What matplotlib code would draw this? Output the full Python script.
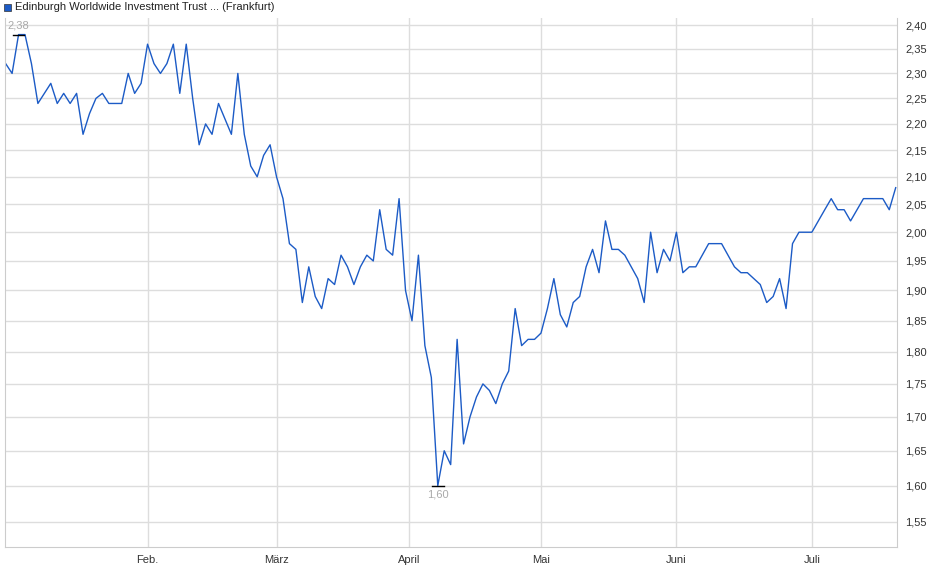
import matplotlib.pyplot as plt
import matplotlib.ticker as mticker

prices = [2.32, 2.30, 2.38, 2.38, 2.32, 2.24, 2.26, 2.28, 2.24, 2.26, 2.24, 2.26, 2.18, 2.22, 2.25,
          2.26, 2.24, 2.24, 2.24, 2.30, 2.26, 2.28, 2.36, 2.32, 2.30, 2.32, 2.36, 2.26, 2.36, 2.25,
          2.16, 2.20, 2.18, 2.24, 2.21, 2.18, 2.30, 2.18, 2.12, 2.10, 2.14, 2.16, 2.10, 2.06, 1.98,
          1.97, 1.88, 1.94, 1.89, 1.87, 1.92, 1.91, 1.96, 1.94, 1.91, 1.94, 1.96, 1.95, 2.04, 1.97,
          1.96, 2.06, 1.90, 1.85, 1.96, 1.81, 1.76, 1.60, 1.65, 1.63, 1.82, 1.66, 1.70, 1.73, 1.75,
          1.74, 1.72, 1.75, 1.77, 1.87, 1.81, 1.82, 1.82, 1.83, 1.87, 1.92, 1.86, 1.84, 1.88, 1.89,
          1.94, 1.97, 1.93, 2.02, 1.97, 1.97, 1.96, 1.94, 1.92, 1.88, 2.00, 1.93, 1.97, 1.95, 2.00,
          1.93, 1.94, 1.94, 1.96, 1.98, 1.98, 1.98, 1.96, 1.94, 1.93, 1.93, 1.92, 1.91, 1.88, 1.89,
          1.92, 1.87, 1.98, 2.00, 2.00, 2.00, 2.02, 2.04, 2.06, 2.04, 2.04, 2.02, 2.04, 2.06, 2.06,
          2.06, 2.06, 2.04, 2.08]
days = list(range(len(prices)))  # trading-day index
y_ticks = [1.55, 1.60, 1.65, 1.70, 1.75, 1.80, 1.85, 1.90, 1.95, 2.00, 2.05, 2.10, 2.15, 2.20,
           2.25, 2.30, 2.35, 2.40]
month_pos = [22, 42, 62.5, 83, 104, 125]  # first trading day of each month
month_labels = ['Feb.', 'März', 'April', 'Mai', 'Juni', 'Juli']

plt.rcParams['font.family'] = ['Liberation Sans', 'DejaVu Sans']
fig = plt.figure(figsize=(9.4, 5.79), dpi=100)
ax = fig.add_axes([5/940, 32/579, 892/940, 529/579])
ax.plot(days, prices, color='#1c5bc6', lw=1)
ax.set_yscale('log')
ax.set_ylim(1.516, 2.415)
ax.set_xlim(-0.1, len(prices) - 0.8)
ax.yaxis.set_major_locator(mticker.FixedLocator(y_ticks))
ax.yaxis.set_minor_locator(mticker.NullLocator())
ax.yaxis.set_major_formatter(mticker.FixedFormatter([f'{v:.2f}'.replace('.', ',') for v in y_ticks]))
ax.yaxis.tick_right()
ax.set_xticks(month_pos)
ax.set_xticklabels(month_labels)
ax.tick_params(length=0, labelsize=8, colors='#333333', pad=6)
ax.grid(color='#dddddd', lw=1)
ax.spines['top'].set_visible(False)
for s in ['left', 'right', 'bottom']:
    ax.spines[s].set_color('#cccccc')

i_max = prices.index(max(prices))
i_min = prices.index(min(prices))
ax.plot([i_max - 0.9, i_max + 0.9], [max(prices)] * 2, color='black', lw=1)
ax.annotate('2,38', (i_max, max(prices)), xytext=(0, 3), textcoords='offset points',
            ha='center', va='bottom', fontsize=8, color='#aaaaaa')
ax.plot([i_min - 0.9, i_min + 0.9], [min(prices)] * 2, color='black', lw=1)
ax.annotate('1,60', (i_min, min(prices)), xytext=(0, -3), textcoords='offset points',
            ha='center', va='top', fontsize=8, color='#aaaaaa')

fig.patches.append(plt.Rectangle((4/940, 1 - 11/579), 7/940, 7/579, transform=fig.transFigure,
                                 facecolor='#1c5bc6', edgecolor='#333333', lw=0.5))
fig.text(15/940, 1 - 7/579, 'Edinburgh Worldwide Investment Trust ... (Frankfurt)', fontsize=8,
         va='center', color='#222222')
fig.savefig('out.png', dpi=100)
